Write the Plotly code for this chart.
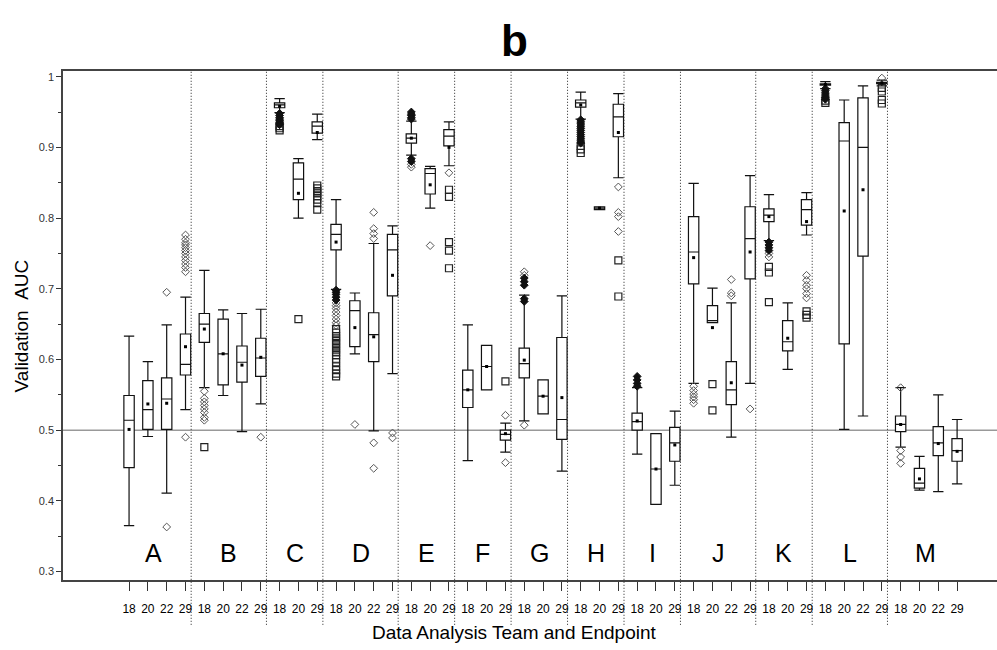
import plotly.graph_objects as go

# Teams and the endpoints each one submitted
teams = ["A", "B", "C", "D", "E", "F", "G", "H", "I", "J", "K", "L", "M"]
team_endpoints = [
    ["18", "20", "22", "29"],
    ["18", "20", "22", "29"],
    ["18", "20", "29"],
    ["18", "20", "22", "29"],
    ["18", "20", "29"],
    ["18", "20", "29"],
    ["18", "20", "29"],
    ["18", "20", "29"],
    ["18", "20", "29"],
    ["18", "20", "22", "29"],
    ["18", "20", "29"],
    ["18", "20", "22", "29"],
    ["18", "20", "22", "29"],
]

# Box statistics, one entry per team/endpoint in the order above
lower_whisker = [0.365, 0.491, 0.411, 0.529, 0.560, 0.549, 0.498, 0.537, 0.949, 0.800, 0.911,
                 0.699, 0.608, 0.499, 0.580, 0.889, 0.814, 0.874, 0.457, 0.557, 0.469, 0.513,
                 0.523, 0.442, 0.940, 0.812, 0.857, 0.466, 0.395, 0.422, 0.566, 0.652, 0.490,
                 0.566, 0.768, 0.586, 0.776, 0.983, 0.501, 0.520, 0.987, 0.476, 0.415, 0.413, 0.424]
quartile1 = [0.447, 0.501, 0.501, 0.578, 0.624, 0.564, 0.568, 0.576, 0.956, 0.826, 0.920,
             0.755, 0.618, 0.597, 0.690, 0.906, 0.834, 0.902, 0.532, 0.557, 0.486, 0.574,
             0.523, 0.487, 0.957, 0.812, 0.915, 0.500, 0.395, 0.456, 0.707, 0.652, 0.536,
             0.714, 0.795, 0.612, 0.790, 0.988, 0.622, 0.746, 0.990, 0.498, 0.418, 0.464, 0.456]
medians = [0.514, 0.529, 0.544, 0.593, 0.650, 0.608, 0.596, 0.602, 0.960, 0.855, 0.930,
           0.777, 0.669, 0.635, 0.755, 0.913, 0.863, 0.916, 0.557, 0.590, 0.494, 0.594,
           0.548, 0.515, 0.963, 0.814, 0.943, 0.512, 0.445, 0.482, 0.752, 0.655, 0.557,
           0.771, 0.804, 0.625, 0.812, 0.989, 0.909, 0.900, 0.991, 0.508, 0.425, 0.482, 0.471]
quartile3 = [0.549, 0.570, 0.574, 0.636, 0.665, 0.657, 0.619, 0.630, 0.963, 0.878, 0.936,
             0.791, 0.683, 0.666, 0.777, 0.919, 0.870, 0.925, 0.585, 0.620, 0.500, 0.616,
             0.571, 0.631, 0.967, 0.816, 0.961, 0.524, 0.495, 0.504, 0.802, 0.676, 0.597,
             0.816, 0.813, 0.655, 0.826, 0.990, 0.935, 0.970, 0.992, 0.520, 0.446, 0.505, 0.488]
upper_whisker = [0.633, 0.597, 0.649, 0.688, 0.726, 0.670, 0.665, 0.671, 0.969, 0.884, 0.947,
                 0.826, 0.694, 0.764, 0.789, 0.937, 0.873, 0.936, 0.649, 0.620, 0.510, 0.691,
                 0.571, 0.690, 0.978, 0.816, 0.976, 0.560, 0.495, 0.527, 0.849, 0.701, 0.680,
                 0.860, 0.833, 0.680, 0.836, 0.993, 0.967, 0.987, 0.995, 0.560, 0.463, 0.550, 0.515]
means = [0.501, 0.537, 0.538, 0.618, 0.643, 0.608, 0.592, 0.603, 0.958, 0.835, 0.921,
         0.766, 0.645, 0.632, 0.719, 0.913, 0.847, 0.900, 0.557, 0.590, 0.495, 0.599,
         0.548, 0.546, 0.960, 0.814, 0.921, 0.513, 0.445, 0.479, 0.744, 0.645, 0.567,
         0.752, 0.802, 0.630, 0.795, 0.989, 0.810, 0.840, 0.991, 0.508, 0.431, 0.481, 0.470]

# Outlying models, grouped by marker style
outliers_diamond = {
    "A22": [0.695, 0.363],
    "A29": [0.776, 0.770, 0.765, 0.762, 0.758, 0.754, 0.750, 0.745, 0.740, 0.735, 0.730, 0.724, 0.490],
    "B18": [0.555, 0.545, 0.540, 0.535, 0.530, 0.525, 0.518, 0.514],
    "B29": [0.490],
    "D18": [0.680, 0.676, 0.672, 0.667, 0.662, 0.657, 0.652, 0.648],
    "D20": [0.508],
    "D22": [0.808, 0.785, 0.778, 0.771, 0.482, 0.446],
    "D29": [0.496, 0.489],
    "E18": [0.876, 0.872],
    "E20": [0.761],
    "E29": [0.864],
    "F29": [0.521, 0.454],
    "G18": [0.724, 0.719, 0.507],
    "H29": [0.844, 0.808, 0.802, 0.781],
    "J18": [0.562, 0.556, 0.551, 0.547, 0.543, 0.538],
    "J22": [0.713, 0.694, 0.690],
    "J29": [0.530],
    "K18": [0.750, 0.745],
    "K29": [0.719, 0.712, 0.705, 0.700, 0.693, 0.687],
    "L29": [0.998],
    "M18": [0.560, 0.471, 0.462, 0.453],
}
outliers_filled = {
    "C18": [0.948, 0.945, 0.942, 0.940, 0.938, 0.936, 0.934, 0.932],
    "D18": [0.698, 0.695, 0.692, 0.688, 0.684],
    "E18": [0.950, 0.947, 0.945, 0.942, 0.940, 0.884, 0.880],
    "G18": [0.715, 0.710, 0.705, 0.686, 0.682],
    "H18": [0.939, 0.936, 0.933, 0.930, 0.927, 0.924, 0.921, 0.918, 0.915, 0.912, 0.909, 0.906],
    "I18": [0.576, 0.571, 0.566, 0.562],
    "K18": [0.766, 0.762, 0.758, 0.754],
    "L18": [0.983, 0.980, 0.977, 0.974, 0.971, 0.968],
}
outliers_square = {
    "B18": [0.476],
    "C18": [0.930, 0.927, 0.924],
    "C20": [0.657],
    "C29": [0.846, 0.842, 0.838, 0.835, 0.831, 0.826, 0.821, 0.812],
    "D18": [0.643, 0.638, 0.633, 0.630, 0.626, 0.622, 0.618, 0.614, 0.610, 0.606,
            0.601, 0.596, 0.590, 0.585, 0.580, 0.576],
    "E29": [0.840, 0.830, 0.766, 0.754, 0.729],
    "F29": [0.569],
    "H18": [0.902, 0.897, 0.892],
    "H29": [0.740, 0.689],
    "J20": [0.565, 0.528],
    "K18": [0.731, 0.723, 0.681],
    "K29": [0.668, 0.663, 0.659],
    "L18": [0.966, 0.963],
    "L29": [0.984, 0.979, 0.967, 0.962],
}

FONT = "Arial, 'Liberation Sans', sans-serif"

# Slot positions along the category axis
labels, tick_text, group_slots = [], [], []
for team, eps in zip(teams, team_endpoints):
    slots = []
    for ep in eps:
        slots.append(len(labels))
        labels.append(team + ep)
        tick_text.append(ep)
    group_slots.append(slots)
positions = list(range(len(labels)))
pos_of = dict(zip(labels, positions))

fig = go.Figure()

fig.add_trace(go.Box(
    x=positions, q1=quartile1, median=medians, q3=quartile3,
    lowerfence=lower_whisker, upperfence=upper_whisker,
    width=0.55, whiskerwidth=1, boxpoints=False,
    fillcolor="white", line=dict(color="#111111", width=1.2),
    showlegend=False, hoverinfo="skip",
))


def outlier_trace(groups, symbol, color, size, lw):
    xs, ys = [], []
    for key, vals in groups.items():
        for v in vals:
            xs.append(pos_of[key])
            ys.append(v)
    return go.Scatter(x=xs, y=ys, mode="markers", showlegend=False, hoverinfo="skip",
                      marker=dict(symbol=symbol, size=size, color=color,
                                  line=dict(color=color, width=lw)))


fig.add_trace(outlier_trace(outliers_diamond, "diamond-open", "#555555", 6, 1))
fig.add_trace(outlier_trace(outliers_square, "square-open", "#222222", 7, 1.2))
fig.add_trace(outlier_trace(outliers_filled, "diamond", "#111111", 6, 1))

# mean markers
fig.add_trace(go.Scatter(x=positions, y=means, mode="markers", showlegend=False,
                         hoverinfo="skip",
                         marker=dict(symbol="square", size=3, color="black")))

# chance-level reference line
fig.add_hline(y=0.5, line=dict(color="#999999", width=1.5), layer="below")

# dotted separators between teams, running down through the tick labels
for slots in group_slots[:-1]:
    fig.add_shape(type="line", xref="x", yref="paper",
                  x0=slots[-1] + 0.3, x1=slots[-1] + 0.3, y0=-0.088, y1=1,
                  line=dict(color="#222222", width=1, dash="1px,2px"))

# team letters
for team, slots in zip(teams, group_slots):
    fig.add_annotation(x=(slots[0] + slots[-1]) / 2 - 0.2, y=0.326, xref="x", yref="y",
                       text=team, showarrow=False,
                       font=dict(family=FONT, size=25, color="black"))

fig.add_annotation(x=0.483, y=1.06, xref="paper", yref="paper", yanchor="middle",
                   text="<b>b</b>", showarrow=False,
                   font=dict(family=FONT, size=44, color="black"))
fig.add_annotation(x=0.483, y=-0.104, xref="paper", yref="paper", yanchor="middle",
                   text="Data Analysis Team and Endpoint", showarrow=False,
                   font=dict(family=FONT, size=19, color="black"))
fig.add_annotation(x=-0.044, y=0.5, xref="paper", yref="paper", xanchor="center",
                   text="Validation\u00a0\u00a0AUC", textangle=-90, showarrow=False,
                   font=dict(family=FONT, size=19, color="black"))

fig.update_layout(
    width=997, height=650,
    margin=dict(l=63, r=0, t=71, b=70),
    paper_bgcolor="white", plot_bgcolor="white",
    font=dict(family=FONT, color="black"),
    xaxis=dict(
        range=[-3.51, 46.12], tickmode="array", tickvals=positions, ticktext=tick_text,
        ticks="outside", ticklen=9, tickwidth=1, tickcolor="#333333",
        showline=True, linecolor="#444444", linewidth=1.5, mirror=True,
        showgrid=False, zeroline=False, ticklabelstandoff=8,
        tickfont=dict(family=FONT, size=12, color="black"),
    ),
    yaxis=dict(
        range=[0.288, 1.008], tickmode="array",
        tickvals=[0.3, 0.4, 0.5, 0.6, 0.7, 0.8, 0.9, 1.0],
        ticktext=["0.3", "0.4", "0.5", "0.6", "0.7", "0.8", "0.9", "1"],
        ticks="outside", ticklen=5, tickwidth=1, tickcolor="#333333",
        minor=dict(ticks="outside", ticklen=3, tickvals=[0.35, 0.45, 0.55, 0.65, 0.75, 0.85, 0.95],
                   tickcolor="#333333"),
        showline=True, linecolor="#444444", linewidth=1.5,
        showgrid=False, zeroline=False,
        tickfont=dict(family=FONT, size=11, color="#333333"),
    ),
)

fig.write_html("out.html")
